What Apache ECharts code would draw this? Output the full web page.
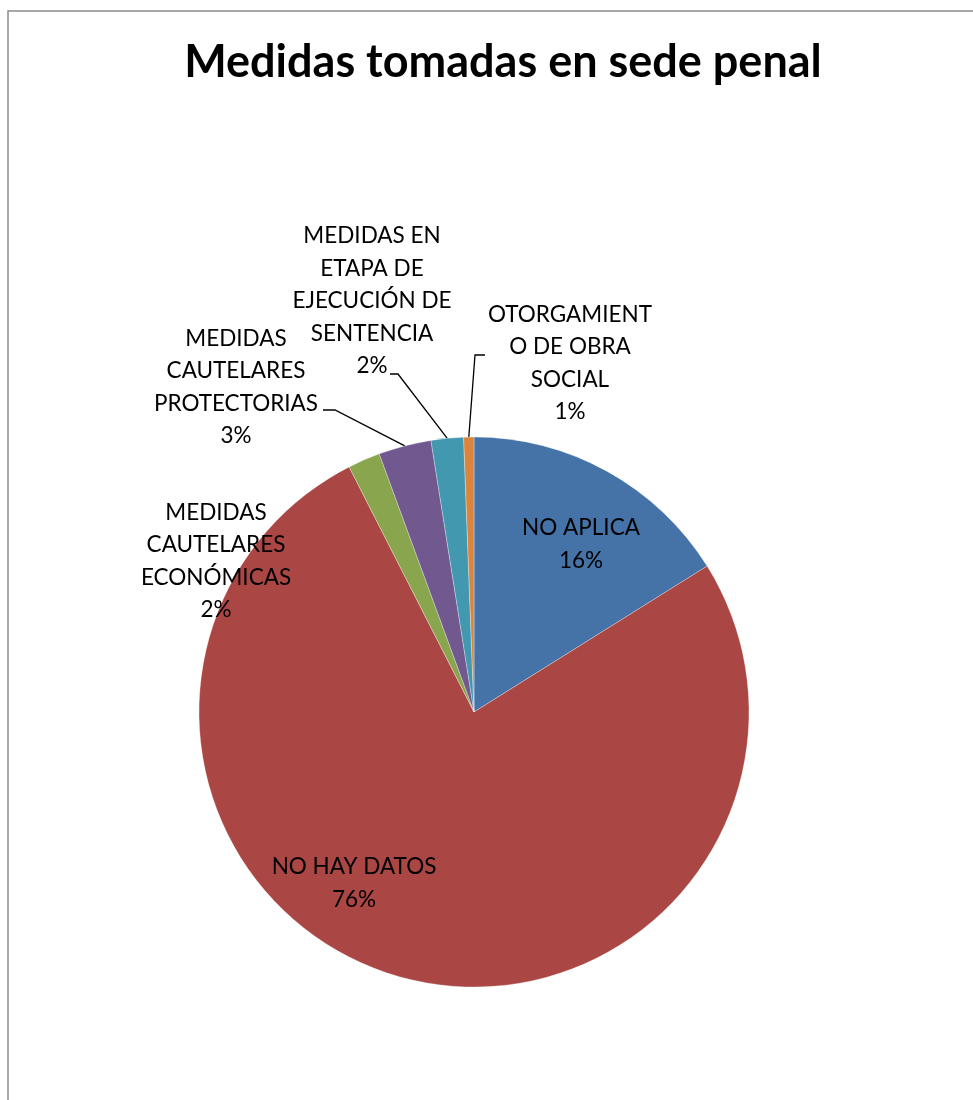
<!DOCTYPE html>
<html>
<head>
<meta charset="utf-8">
<title>Medidas tomadas en sede penal</title>
<script src="https://cdn.jsdelivr.net/npm/echarts@6/dist/echarts.min.js"></script>
<style>
  html, body { margin: 0; padding: 0; background: #fff; }
  #chart { width: 973px; height: 1100px; }
</style>
</head>
<body>
<div id="chart"></div>
<script>
const categories = [
  'NO APLICA',
  'NO HAY DATOS',
  'MEDIDAS CAUTELARES ECONÓMICAS',
  'MEDIDAS CAUTELARES PROTECTORIAS',
  'MEDIDAS EN ETAPA DE EJECUCIÓN DE SENTENCIA',
  'OTORGAMIENTO DE OBRA SOCIAL'
]
const values = [16.1, 76.4, 1.9, 3.1, 1.9, 0.6]
// texto de etiqueta con los cortes de línea del original
const labelTexts = [
  'NO APLICA',
  'NO HAY DATOS',
  'MEDIDAS\nCAUTELARES\nECONÓMICAS',
  'MEDIDAS\nCAUTELARES\nPROTECTORIAS',
  'MEDIDAS EN\nETAPA DE\nEJECUCIÓN DE\nSENTENCIA',
  'OTORGAMIENT\nO DE OBRA\nSOCIAL'
]

const colors = ['#4572A7', '#AA4643', '#89A54E', '#71588F', '#4198AF', '#DB843D']

// centro y radio del pastel
const cx = 474
const cy = 712
const radius = 275

// posición de cada etiqueta respecto al centro del pastel
const labelOffsets = [
  [107, -168],
  [-120, 171],
  [-258, -151],
  [-238, -325],
  [-102, -411],
  [96, -349]
]
// inicio de la línea guía (extremo junto al texto) y codo, respecto al centro
const guideStarts = [null, null, null, [[-151, -302], [-139, -302]], [[-84, -338], [-76, -338]], [[11, -357], [1, -357]]]

const myChart = echarts.init(document.getElementById('chart'))

const option = {
  animation: false,
  color: colors,
  title: {
    text: 'Medidas tomadas en sede penal',
    left: 498,
    top: 35,
    textAlign: 'center',
    textStyle: {
      fontFamily: 'Lato',
      fontWeight: 'bold',
      fontSize: 45,
      color: '#000'
    }
  },
  graphic: [{
    type: 'rect',
    silent: true,
    shape: { x: 8, y: 11, width: 1100, height: 1200 },
    style: { fill: null, stroke: '#8c8c8c', lineWidth: 1.5 }
  }],
  series: [
    {
      type: 'pie',
      center: [cx, cy],
      radius: radius,
      startAngle: 90,
      clockwise: true,
      avoidLabelOverlap: false,
      itemStyle: {
        borderColor: 'rgba(255,255,255,0.6)',
        borderWidth: 0.5
      },
      label: {
        show: true,
        position: 'outside',
        color: '#000',
        fontFamily: 'Lato',
        fontSize: 22.5,
        lineHeight: 32.5,
        align: 'center',
        formatter: p => labelTexts[p.dataIndex] + '\n' + Math.round(p.percent) + '%'
      },
      labelLine: {
        show: true,
        lineStyle: { color: '#000', width: 1.3 }
      },
      labelLayout: function (params) {
        const i = params.dataIndex
        const off = labelOffsets[i]
        const res = {
          x: cx + off[0],
          y: cy + off[1],
          align: 'center',
          verticalAlign: 'middle'
        }
        const g = guideStarts[i]
        if (g && params.labelLinePoints) {
          res.labelLinePoints = [
            [cx + g[0][0], cy + g[0][1]],
            [cx + g[1][0], cy + g[1][1]],
            params.labelLinePoints[0]
          ]
        }
        return res
      },
      data: categories.map((name, i) => ({
        name: name,
        value: values[i],
        labelLine: { show: guideStarts[i] != null }
      }))
    }
  ]
}

myChart.setOption(option)
</script>
</body>
</html>
